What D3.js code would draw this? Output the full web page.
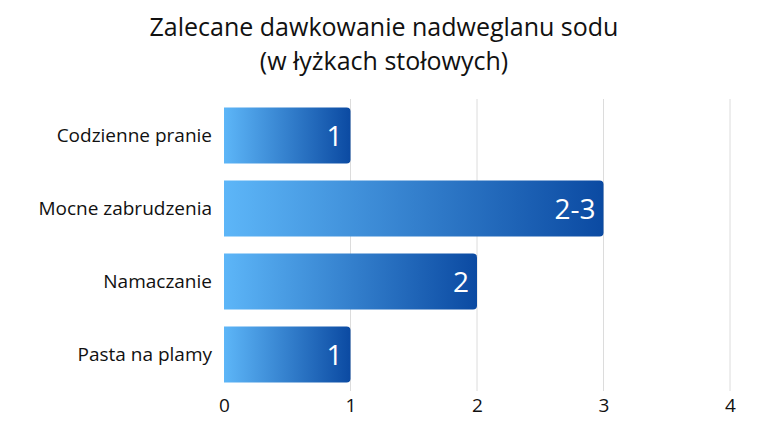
<!DOCTYPE html>
<html>
<head>
<meta charset="utf-8">
<script src="https://cdn.jsdelivr.net/npm/d3@7"></script>
<style>
  body { margin: 0; background: #fff; }
  text { font-family: "Open Sans", "Noto Sans", sans-serif; }
</style>
</head>
<body>
<svg id="chart" width="768" height="429"></svg>
<script>
var categories = ['Codzienne pranie', 'Mocne zabrudzenia', 'Namaczanie', 'Pasta na plamy'];
var values = [1, 3, 2, 1];
var valueLabels = ['1', '2-3', '2', '1'];
var ticks = [0, 1, 2, 3, 4];

var svg = d3.select('#chart');
var margin = { left: 224, right: 38, top: 99, bottom: 38 };
var width = 768, height = 429;

var x = d3.scaleLinear().domain([0, 4]).range([margin.left, width - margin.right]);
var y = d3.scaleBand().domain(categories)
    .range([margin.top, height - margin.bottom]).paddingInner(0.23).paddingOuter(0.115);

// gradient
var grad = svg.append('defs').append('linearGradient')
    .attr('id', 'barGrad').attr('x1', '0%').attr('x2', '100%');
grad.append('stop').attr('offset', '0%').attr('stop-color', '#5db6f8');
grad.append('stop').attr('offset', '100%').attr('stop-color', '#0b4aa2');

// title
svg.append('text').attr('x', 384).attr('y', 36).attr('text-anchor', 'middle')
    .attr('font-size', 25).attr('fill', '#111').text('Zalecane dawkowanie nadweglanu sodu');
svg.append('text').attr('x', 384).attr('y', 70).attr('text-anchor', 'middle')
    .attr('font-size', 25).attr('fill', '#111').text('(w łyżkach stołowych)');

// grid
svg.append('g').selectAll('line').data(ticks.slice(1)).join('line')
    .attr('x1', function(d) { return x(d); }).attr('x2', function(d) { return x(d); })
    .attr('y1', margin.top).attr('y2', height - margin.bottom)
    .attr('stroke', '#dcdcdc').attr('stroke-width', 1);

// x axis labels
var xAxis = d3.axisBottom(x).tickValues(ticks).tickFormat(d3.format('d')).tickSize(0).tickPadding(8);
svg.append('g').attr('transform', 'translate(0,' + (height - margin.bottom) + ')')
    .call(xAxis)
    .call(function(g) { g.select('.domain').remove(); })
    .selectAll('text').attr('font-size', 19).attr('fill', '#111')
    .style('font-family', '"Open Sans", sans-serif');

// bars
svg.append('g').selectAll('path').data(values).join('path')
    .attr('d', function(d, i) {
      var x0 = x(0), x1 = x(d), y0 = y(categories[i]), h = y.bandwidth(), r = 4;
      return 'M' + x0 + ',' + y0 + 'H' + (x1 - r) + 'Q' + x1 + ',' + y0 + ' ' + x1 + ',' + (y0 + r) +
        'V' + (y0 + h - r) + 'Q' + x1 + ',' + (y0 + h) + ' ' + (x1 - r) + ',' + (y0 + h) + 'H' + x0 + 'Z';
    })
    .attr('fill', 'url(#barGrad)');

// value labels
svg.append('g').selectAll('text').data(values).join('text')
    .attr('x', function(d) { return x(d) - 8; })
    .attr('y', function(d, i) { return y(categories[i]) + y.bandwidth() / 2; })
    .attr('dy', '0.36em').attr('text-anchor', 'end')
    .attr('font-size', 28).attr('fill', '#fff')
    .text(function(d, i) { return valueLabels[i]; });

// category labels
svg.append('g').selectAll('text').data(categories).join('text')
    .attr('x', margin.left - 12)
    .attr('y', function(d) { return y(d) + y.bandwidth() / 2; })
    .attr('dy', '0.36em').attr('text-anchor', 'end')
    .attr('font-size', 19).attr('fill', '#111')
    .text(function(d) { return d; });
</script>
</body>
</html>
